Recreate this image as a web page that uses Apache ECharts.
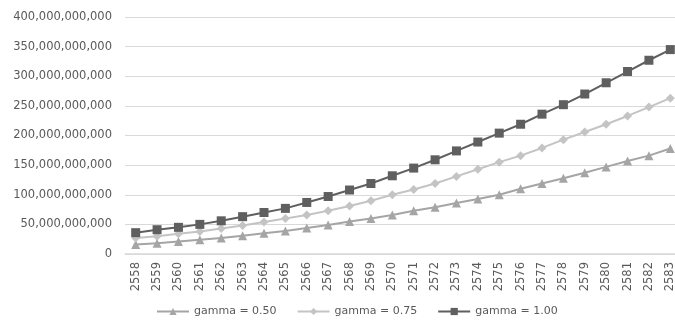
<!DOCTYPE html>
<html>
<head>
<meta charset="utf-8">
<script src="https://cdn.jsdelivr.net/npm/echarts@6/dist/echarts.min.js"></script>
<style>html,body{margin:0;padding:0;background:#fff;overflow:hidden;width:675px;height:324px;}#c{width:685px;height:324px;}</style>
</head>
<body>
<div id="c"></div>
<script>
const years = ['2558','2559','2560','2561','2562','2563','2564','2565','2566','2567','2568','2569','2570','2571','2572','2573','2574','2575','2576','2577','2578','2579','2580','2581','2582','2583'];
const seriesNames = ['gamma = 0.50', 'gamma = 0.75', 'gamma = 1.00'];
// values in billions
const gamma050 = [16,18,21,24,27,31,35,39,44,49,55,60,66,73,79,86,93,100,110,119,128,137,147,157,166,178];
const gamma075 = [27,30,34,38,43,48,54,60,66,73,81,90,100,109,119,131,143,155,166,179,193,206,219,233,248,263];
const gamma100 = [36,41,45,50,56,63,70,77,87,97,108,119,132,145,159,174,189,204,219,236,252,270,289,308,327,345];
const yTicks = [0, 50e9, 100e9, 150e9, 200e9, 250e9, 300e9, 350e9, 400e9];

const toFull = a => a.map(v => v * 1e9);
const font = 'DejaVu Sans';
const chart = echarts.init(document.getElementById('c'), null, {renderer: 'canvas'});
function mk(name, data, color, symbol, size) {
  return {
    name, type: 'line', data: toFull(data), symbol, symbolSize: size,
    lineStyle: {color, width: 2}, itemStyle: {color}, animation: false
  };
}
chart.setOption({
  animation: false,
  backgroundColor: '#fff',
  grid: {left: 125, right: 4, top: 17, bottom: 70},
  legend: {
    bottom: 2, left: 151, itemWidth: 32, itemHeight: 9, itemGap: 20,
    textStyle: {fontFamily: font, fontSize: 11, color: '#595959'},
    data: seriesNames
  },
  xAxis: {
    type: 'category', data: years, boundaryGap: true,
    axisLine: {lineStyle: {color: '#d9d9d9', width: 1.5}},
    axisTick: {show: false},
    axisLabel: {rotate: 90, fontFamily: font, fontSize: 11.5, color: '#595959', margin: 8, interval: 0}
  },
  yAxis: {
    type: 'value', min: 0, max: 400e9, interval: 50e9,
    axisLine: {show: false}, axisTick: {show: false},
    splitLine: {lineStyle: {color: '#d9d9d9', width: 1.2}},
    axisLabel: {fontFamily: font, fontSize: 11.5, color: '#595959', margin: 13,
      formatter: v => yTicks.includes(v) ? v.toLocaleString('en-US') : ''}
  },
  series: [
    mk(seriesNames[0], gamma050, '#a5a5a5', 'triangle', 9),
    mk(seriesNames[1], gamma075, '#c4c4c4', 'diamond', 9),
    mk(seriesNames[2], gamma100, '#5f5f5f', 'rect', 9)
  ]
});
</script>
</body>
</html>
